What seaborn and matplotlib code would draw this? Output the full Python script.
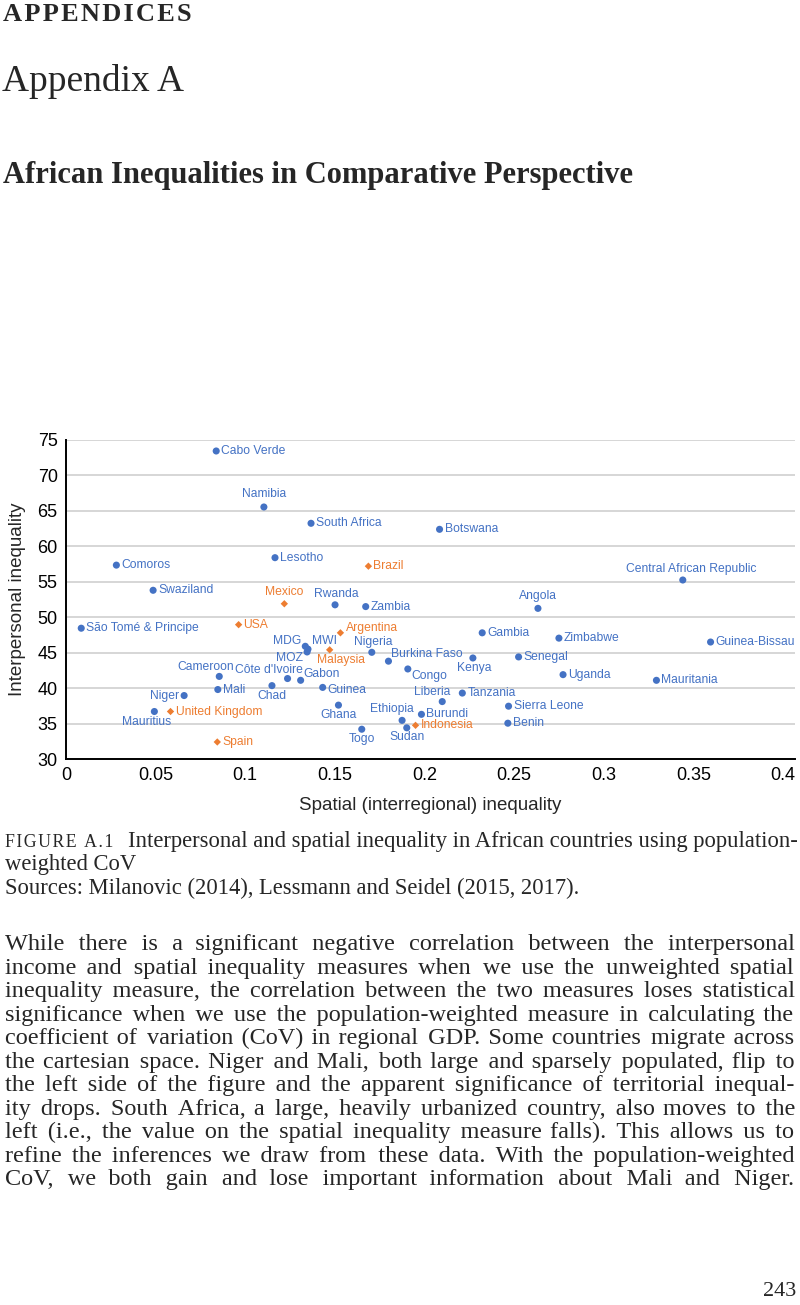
import matplotlib
matplotlib.use('Agg')
import matplotlib.pyplot as plt
import seaborn as sns
import pandas as pd

# Figure A.1 data: population-weighted CoV (x) vs Gini (y)
countries = ["Cabo Verde", "Namibia", "South Africa", "Botswana", "Lesotho", "Comoros",
             "Swaziland", "Rwanda", "Zambia", "Angola", "Central African Republic",
             "São Tomé & Principe", "Cameroon", "Mali", "Niger", "Mauritius", "MDG", "MWI",
             "MOZ", "Nigeria", "Burkina Faso", "Congo", "Kenya", "Gambia", "Chad",
             "Côte d'Ivoire", "Gabon", "Guinea", "Ghana", "Togo", "Ethiopia", "Sudan",
             "Burundi", "Liberia", "Tanzania", "Sierra Leone", "Benin", "Senegal",
             "Zimbabwe", "Guinea-Bissau", "Uganda", "Mauritania"]
spatial = [0.0838, 0.1104, 0.1367, 0.2084, 0.1166, 0.0281,
           0.0486, 0.1501, 0.1672, 0.2633, 0.3441,
           0.0085, 0.0855, 0.0847, 0.0659, 0.0493, 0.1335, 0.1350,
           0.1345, 0.1706, 0.1799, 0.1907, 0.2270, 0.2322, 0.1149,
           0.1236, 0.1309, 0.1432, 0.1520, 0.1650, 0.1875, 0.1901,
           0.1983, 0.2099, 0.2211, 0.2469, 0.2465, 0.2525,
           0.2750, 0.3596, 0.2773, 0.3294]
interpersonal = [73.45, 65.55, 63.25, 62.4, 58.4, 57.35,
                 53.8, 51.75, 51.5, 51.25, 55.25,
                 48.45, 41.65, 39.8, 38.95, 36.7, 45.9, 45.5,
                 45.1, 45.05, 43.8, 42.7, 44.25, 47.8, 40.35,
                 41.35, 41.1, 40.1, 37.6, 34.2, 35.45, 34.4,
                 36.3, 38.1, 39.3, 37.45, 35.05, 44.4,
                 47.05, 46.5, 41.9, 41.1]

# comparison countries
other_countries = ["Brazil", "Mexico", "USA", "United Kingdom", "Spain", "Argentina",
                   "Malaysia", "Indonesia"]
other_spatial = [0.1687, 0.1218, 0.0963, 0.0583, 0.0844, 0.1531, 0.1471, 0.1950]
other_interpersonal = [57.2, 51.9, 48.95, 36.7, 32.4, 47.8, 45.4, 34.75]

x_ticks = [0, 0.05, 0.1, 0.15, 0.2, 0.25, 0.3, 0.35, 0.4]
x_tick_labels = ["0", "0.05", "0.1", "0.15", "0.2", "0.25", "0.3", "0.35", "0.4"]
y_ticks = [30, 35, 40, 45, 50, 55, 60, 65, 70, 75]

BLUE = "#4472C4"
ORANGE = "#ED7D31"

# label placement: (dx px, dy px, ha)
label_pos = {
    "Namibia": (0, 13, "center"), "Mexico": (0, 12, "center"), "Rwanda": (1, 11, "center"),
    "Angola": (0, 12, "center"), "Central African Republic": (8, 11, "center"),
    "Cameroon": (-14, 9, "center"), "Niger": (-5, 0, "right"),
    "Mauritius": (-8, -10, "center"), "Argentina": (6, 5, "left"),
    "MDG": (-4, 5, "right"), "MWI": (4, 8, "left"), "MOZ": (-4, -6, "right"),
    "Malaysia": (11, -10, "center"), "Nigeria": (1, 10, "center"),
    "Burkina Faso": (3, 7, "left"), "Congo": (4, -7, "left"), "Kenya": (1, -10, "center"),
    "Côte d'Ivoire": (-19, 9, "center"), "Chad": (0, -10, "center"),
    "Gabon": (3, 6, "left"), "Guinea": (5, -3, "left"), "Ghana": (0, -10, "center"),
    "Togo": (0, -10, "center"), "Ethiopia": (-10, 11, "center"),
    "Sudan": (0, -9, "center"), "Liberia": (-10, 10, "center"),
}

W, H = 800, 1305
SERIF = ["Liberation Serif", "DejaVu Serif"]
SANS = ["Liberation Sans", "DejaVu Sans"]
HAIR = "\u200a"


def fx(px):
    return px / W


def fy(py):
    return 1 - py / H


def text_width(fig, s, **kw):
    r = fig.canvas.get_renderer()
    t = fig.text(0, 0, s, **kw)
    w = t.get_window_extent(r).width
    t.remove()
    return w


def justify(fig, py, line, x0=5, x1=794, **kw):
    # one Text per line; gaps widened with extra spaces / hair spaces
    words = line.split()
    sw = text_width(fig, "x x", **kw) - text_width(fig, "xx", **kw)
    hw = text_width(fig, "x" + HAIR + "x", **kw) - text_width(fig, "xx", **kw)
    extra = (x1 - x0) - text_width(fig, line, **kw)
    per_gap = extra / max(len(words) - 1, 1)
    out = words[0]
    done = 0.0
    for i, w in enumerate(words[1:]):
        target = per_gap * (i + 1) - done
        n_sp = int(max(target, 0) // sw)
        rest = target - n_sp * sw
        n_h = int(round(rest / hw)) if hw > 0 else 0
        done += n_sp * sw + n_h * hw
        out += " " + " " * n_sp + HAIR * n_h + w
    fig.text(fx(x0), fy(py), out, va="baseline", **kw)


def main():
    sns.set_style("white")
    plt.rcParams["font.family"] = SANS

    df = pd.DataFrame({
        "country": countries + other_countries,
        "spatial": spatial + other_spatial,
        "interpersonal": interpersonal + other_interpersonal,
        "group": ["Africa"] * len(countries) + ["Other"] * len(other_countries),
    })

    fig = plt.figure(figsize=(W / 100, H / 100), dpi=100)
    ax = fig.add_axes([fx(66), fy(759), fx(795) - fx(66), fy(440) - fy(759)])

    sns.scatterplot(data=df, x="spatial", y="interpersonal", hue="group", style="group",
                    markers={"Africa": "o", "Other": "D"},
                    palette={"Africa": BLUE, "Other": ORANGE},
                    size="group", sizes={"Africa": 26, "Other": 14},
                    edgecolor="none", legend=False, ax=ax, zorder=3)

    for _, row in df.iterrows():
        dx, dy, ha = label_pos.get(row["country"], (5, 0, "left"))
        col = BLUE if row["group"] == "Africa" else ORANGE
        ax.annotate(row["country"], (row["spatial"], row["interpersonal"]),
                    xytext=(dx, dy), textcoords="offset pixels", ha=ha, va="center",
                    fontsize=8.7, color=col, zorder=4)

    ax.set_xlim(0, 0.4 + 12 / 1790)
    ax.set_ylim(30, 75)
    ax.set_xticks(x_ticks)
    ax.set_xticklabels(x_tick_labels)
    ax.set_yticks(y_ticks)
    ax.tick_params(axis="both", length=0, labelsize=13, pad=6, colors="black")
    ax.grid(axis="y", color="#d6d6d6", linewidth=1.4)
    ax.grid(axis="x", visible=False)
    for s in ["top", "right"]:
        ax.spines[s].set_visible(False)
    for s in ["left", "bottom"]:
        ax.spines[s].set_color("black")
        ax.spines[s].set_linewidth(1.4)
    ax.set_xlabel("Spatial (interregional) inequality", fontsize=13.5, labelpad=9)
    ax.set_ylabel("Interpersonal inequality", fontsize=13.5, labelpad=8)

    # page text
    fig.text(fx(3), fy(21), HAIR.join("APPENDICES"), family=SERIF, fontweight="bold",
             fontsize=19, va="baseline")
    fig.text(fx(2), fy(91), "Appendix A", family=SERIF, fontsize=27, va="baseline")
    fig.text(fx(3), fy(183), "African Inequalities in Comparative Perspective", family=SERIF,
             fontweight="bold", fontsize=22, va="baseline")

    fig.text(fx(5), fy(847), HAIR.join("FIGURE A.1"), family=SERIF, fontsize=12.8,
             va="baseline")
    justify(fig, 847, "Interpersonal and spatial inequality in African countries using population-",
            x0=128, x1=792, family=SERIF, fontsize=16.3)
    fig.text(fx(5), fy(870), "weighted CoV", family=SERIF, fontsize=16.3, va="baseline")
    fig.text(fx(5), fy(894), "Sources: Milanovic (2014), Lessmann and Seidel (2015, 2017).",
             family=SERIF, fontsize=16.3, va="baseline")

    body = [
        "While there is a significant negative correlation between the interpersonal",
        "income and spatial inequality measures when we use the unweighted spatial",
        "inequality measure, the correlation between the two measures loses statistical",
        "significance when we use the population-weighted measure in calculating the",
        "coefficient of variation (CoV) in regional GDP. Some countries migrate across",
        "the cartesian space. Niger and Mali, both large and sparsely populated, flip to",
        "the left side of the figure and the apparent significance of territorial inequal-",
        "ity drops. South Africa, a large, heavily urbanized country, also moves to the",
        "left (i.e., the value on the spatial inequality measure falls). This allows us to",
        "refine the inferences we draw from these data. With the population-weighted",
        "CoV, we both gain and lose important information about Mali and Niger.",
    ]
    for i, line in enumerate(body):
        justify(fig, 950 + 23.55 * i, line, family=SERIF, fontsize=17.5)

    fig.text(fx(796), fy(1296), "243", family=SERIF, fontsize=16, ha="right", va="baseline")

    fig.savefig("out.png", dpi=100)
    plt.close(fig)


if __name__ == "__main__":
    main()
